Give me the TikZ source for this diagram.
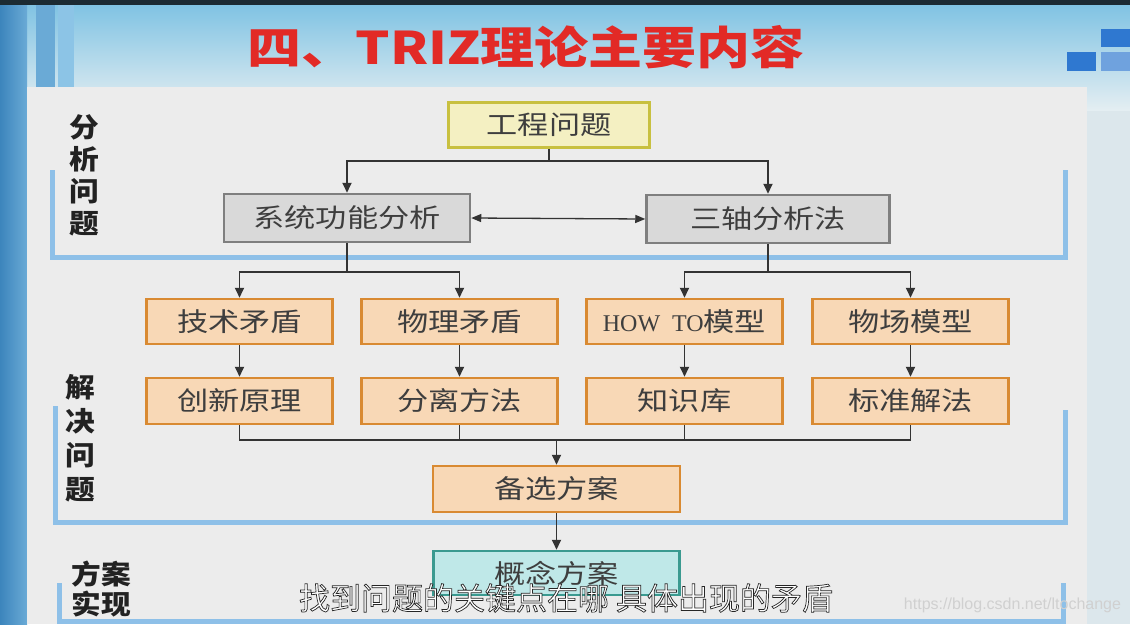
\documentclass[tikz,border=0pt]{standalone}
\usepackage{fontspec}
\setmainfont{Liberation Serif}
\newfontfamily\cjkbox[FakeStretch=1.2]{Noto Sans CJK SC}
\newfontfamily\cjklab[FakeStretch=1.1]{Noto Sans CJK SC}
\newfontfamily\cjktitle[FakeStretch=1.2]{Noto Sans CJK SC}
\newfontfamily\cjksub{Noto Sans CJK SC}
\newfontfamily\serifbox{Liberation Serif}
\newfontfamily\wmfont{Liberation Sans}
\usetikzlibrary{arrows.meta}
\newcommand{\outlinedtext}[1]{\special{pdf:literal 2 Tr 0.7 w 0.15 0.15 0.15 RG}#1\special{pdf:literal 0 Tr}}
\definecolor{topdark}{HTML}{1C2B33}
\definecolor{hdrtop}{HTML}{80C3E3}
\definecolor{hdrbot}{HTML}{E4EEF2}
\definecolor{sidebg}{HTML}{DCE7EC}
\definecolor{panelc}{HTML}{ECECEC}
\definecolor{stripeA}{HTML}{3C85BC}
\definecolor{stripeB}{HTML}{6AAAD6}
\definecolor{stripeC}{HTML}{8CC4E6}
\definecolor{sqblue}{HTML}{2F78D0}
\definecolor{sqlight}{HTML}{6FA2DE}
\definecolor{titlered}{HTML}{E22A26}
\definecolor{txtgray}{HTML}{3E3E3E}
\definecolor{labblack}{HTML}{222222}
\definecolor{linec}{HTML}{333333}
\definecolor{secblue}{HTML}{8EC0E8}
\definecolor{orangef}{HTML}{F8D8B6}
\definecolor{orangeb}{HTML}{D98A32}
\definecolor{grayf}{HTML}{D9D9D9}
\definecolor{grayb}{HTML}{7F7F7F}
\definecolor{yellowf}{HTML}{F4F0C2}
\definecolor{yellowb}{HTML}{C8C040}
\definecolor{cyanf}{HTML}{BFE8E8}
\definecolor{cyanb}{HTML}{3A9A90}
\definecolor{wmgray}{HTML}{D0D0D0}
\tikzset{
  boxbase/.style={draw, line width=2.5pt, minimum height=45pt, inner sep=0pt,
    text=txtgray, font=\cjkbox\fontsize{26}{26}\selectfont},
  orangebox/.style={boxbase, draw=orangeb, fill=orangef, minimum width=196pt},
  graybox/.style={boxbase, draw=grayb, fill=grayf, minimum height=48pt},
  yellowbox/.style={boxbase, draw=yellowb, fill=yellowf},
  cyanbox/.style={boxbase, draw=cyanb, fill=cyanf},
  conn/.style={draw=linec, line width=1.8pt},
  arr/.style={conn, -{Triangle[length=10pt,width=9pt]}},
  dblarr/.style={draw=linec, line width=1.3pt, {Triangle[length=10pt,width=8pt]}-{Triangle[length=10pt,width=8pt]}},
  secline/.style={draw=secblue, line width=5pt},
  seclabel/.style={inner sep=0pt, align=center, text=labblack,
    font=\cjklab\bfseries\fontsize{27}{32}\selectfont},
}
\begin{document}
\begin{tikzpicture}[x=1pt,y=-1pt]
\useasboundingbox (0,0) rectangle (1130,624);
% background
\fill[sidebg] (0,0) rectangle (1130,624);
\shade[top color=hdrtop, bottom color=hdrbot] (0,5) rectangle (1130,110);
\fill[topdark] (0,0) rectangle (1130,5);
\shade[left color=stripeA, right color=stripeB] (0,5) rectangle (27,624);
\fill[stripeB] (36,5) rectangle (55,87);
\fill[stripeC] (58,5) rectangle (74,87);
\fill[panelc] (27,87) rectangle (1087,624);
% top-right squares
\fill[sqblue] (1101,29) rectangle (1130,47);
\fill[sqblue] (1067,52) rectangle (1096,71);
\fill[sqlight] (1101,52) rectangle (1130,71);
% title
\node[text=titlered, font=\cjktitle\bfseries\fontsize{45}{45}\selectfont] (title) at (526,47) {四、TRIZ理论主要内容};
% section brackets
\draw[secline] (52,170) -- (52,257) -- (1065,257) -- (1065,170);
\draw[secline] (55,406) -- (55,522) -- (1065,522) -- (1065,410);
\draw[secline] (59,583) -- (59,621) -- (1063,621) -- (1063,583);
% section labels
\node[seclabel] (lab1) at (84,175) {分\\析\\问\\题};
\node[seclabel, font=\cjklab\bfseries\fontsize{27}{34}\selectfont] (lab2) at (80,438) {解\\决\\问\\题};
\node[seclabel, font=\cjklab\bfseries\fontsize{27}{30}\selectfont] (lab3) at (101,589) {方案\\实现};
% nodes
\node[yellowbox, minimum width=201pt] (gc) at (549,125) {工程问题};
\node[graybox, minimum width=246pt] (xt) at (347,218) {系统功能分析};
\node[graybox, minimum width=243pt] (sz) at (768,219) {三轴分析法};
\node[orangebox, minimum width=186pt] (js) at (239.5,321.5) {技术矛盾};
\node[orangebox] (wl) at (459.5,321.5) {物理矛盾};
\node[orangebox] (ht) at (684.5,321.5) {{\serifbox\fontsize{24}{24}\selectfont HOW\ \ TO}模型};
\node[orangebox] (wc) at (910.5,321.5) {物场模型};
\node[orangebox, minimum width=186pt, minimum height=46pt] (cx) at (239.5,401) {创新原理};
\node[orangebox, minimum height=46pt] (fl) at (459.5,401) {分离方法};
\node[orangebox, minimum height=46pt] (zs) at (684.5,401) {知识库};
\node[orangebox, minimum height=46pt] (bz) at (910.5,401) {标准解法};
\node[orangebox, minimum width=247pt, minimum height=46pt] (bx) at (556.5,489) {备选方案};
\node[cyanbox, minimum width=246pt, minimum height=44pt] (gn) at (556.5,573) {概念方案};
% junction coordinates
\coordinate (j1) at (549,161);
\coordinate (jxt) at (347,272);
\coordinate (jsz) at (768,272);
\coordinate (jb) at (556.5,440);
% connectors
\draw[conn] (gc.south) -- (j1);
\draw[arr] (j1) -| (xt.north);
\draw[arr] (j1) -| (sz.north);
\draw[dblarr] (xt.east) -- (sz.west);
\draw[conn] (xt.south) -- (jxt);
\draw[conn] (sz.south) -- (jsz);
\draw[arr] (jxt) -| (js.north);
\draw[arr] (jxt) -| (wl.north);
\draw[arr] (jsz) -| (ht.north);
\draw[arr] (jsz) -| (wc.north);
\draw[arr] (js.south) -- (cx.north);
\draw[arr] (wl.south) -- (fl.north);
\draw[arr] (ht.south) -- (zs.north);
\draw[arr] (wc.south) -- (bz.north);
\draw[conn] (cx.south) |- (jb);
\draw[conn] (fl.south) |- (jb);
\draw[conn] (zs.south) |- (jb);
\draw[conn] (bz.south) |- (jb);
\draw[arr] (jb) -- (bx.north);
\draw[arr] (bx.south) -- (gn.north);
% watermark
\node[text=wmgray, font=\wmfont\fontsize{16}{16}\selectfont] (wm) at (1012.5,605) {https://blog.csdn.net/ltochange};
% subtitle with outline
\node[text=white, font=\cjksub\fontsize{31}{31}\selectfont] (sub) at (566,598) {\outlinedtext{找到问题的关键点在哪 具体出现的矛盾}};
\end{tikzpicture}
\end{document}
